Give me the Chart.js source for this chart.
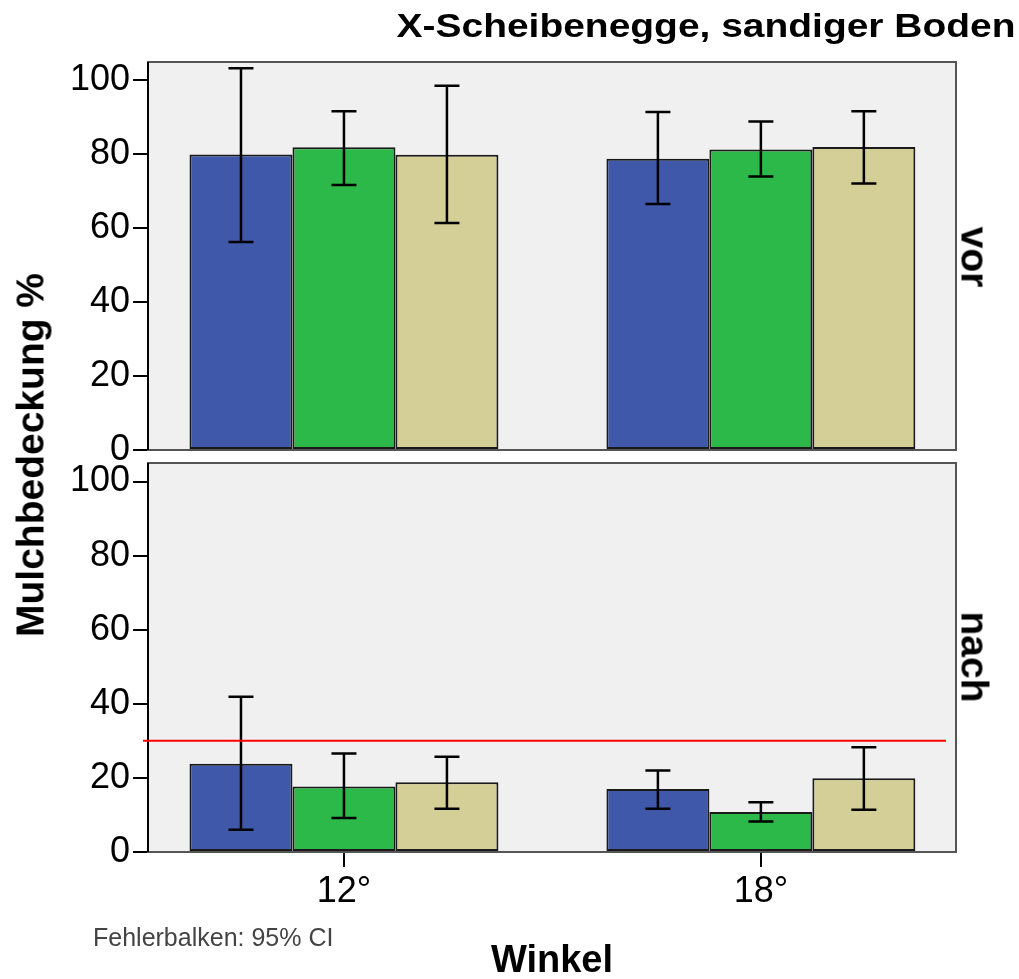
<!DOCTYPE html>
<html>
<head>
    <meta charset="utf-8">
    <title>X-Scheibenegge, sandiger Boden</title>
    <script src="https://cdn.jsdelivr.net/npm/chart.js"></script>
    <style>
        body { margin: 0; background: #fff; font-family: 'Liberation Sans', Arial, sans-serif; }
        #page { position: relative; width: 1019px; height: 979px; overflow: hidden; background: #fff; }
        canvas { position: absolute; left: 0; }
        #cVor { top: 0; }
        #cNach { top: 430px; }
        .txt { position: absolute; line-height: 1; white-space: nowrap; color: #000; }
        .bold { font-weight: bold; }
        .rot { transform: translate(-50%, -50%) rotate(90deg); }
        .rotl { transform: translate(-50%, -50%) rotate(-90deg); }
        #titel { right: 4px; top: 9px; font-size: 33px; transform: scaleX(1.18); transform-origin: right top; }
    </style>
</head>
<body>
<div id="page">
    <canvas id="cVor" width="1019" height="475"></canvas>
    <canvas id="cNach" width="1019" height="549"></canvas>

    <div id="titel" class="txt bold">X-Scheibenegge, sandiger Boden</div>
    <div class="txt bold rotl" style="left:30px; top:455px; font-size:39px;">Mulchbedeckung %</div>
    <div class="txt bold rot" style="left:975px; top:257px; font-size:39px;">vor</div>
    <div class="txt bold rot" style="left:975px; top:657px; font-size:39px;">nach</div>
    <div class="txt" style="left:93px; top:925px; font-size:25px; color:#444;">Fehlerbalken: 95% CI</div>
</div>

<script>
// Kategorien und Achsen
const winkel = ['12°', '18°'];
const winkelPos = [0, 1];
const yTicks = [0, 20, 40, 60, 80, 100];
const schwelle = 30;

// Mittelwerte vor der Bearbeitung (blau, grün, beige)
const vorBlau  = [80.0, 78.8];
const vorGruen = [81.9, 81.3];
const vorBeige = [79.9, 82.0];
// 95%-Konfidenzintervalle [unten, oben]
const vorBlauCI  = [[56.3, 103.3], [66.6, 91.5]];
const vorGruenCI = [[71.7, 91.7], [74.0, 88.9]];
const vorBeigeCI = [[61.4, 98.6], [72.1, 91.7]];

// Mittelwerte nach der Bearbeitung
const nachBlau  = [23.8, 17.0];
const nachGruen = [17.7, 10.8];
const nachBeige = [18.8, 19.9];
const nachBlauCI  = [[6.0, 41.9], [11.7, 22.0]];
const nachGruenCI = [[9.2, 26.6], [8.2, 13.4]];
const nachBeigeCI = [[11.7, 25.7], [11.4, 28.3]];

const farben = ['#3f58aa', '#2db84a', '#d4cf97'];
const FONT = "'Liberation Sans', Arial, sans-serif";

function makeDatasets(reihen, cis) {
    return reihen.map((werte, i) => ({
        label: 'Gruppe ' + (i + 1),
        data: werte.map((v, k) => ({ x: winkelPos[k], y: v })),
        ci: cis[i],
        backgroundColor: farben[i],
        borderColor: '#1a1a1a',
        borderWidth: 2,
        borderSkipped: false,
        categoryPercentage: 0.741,
        barPercentage: 1.0
    }));
}

// Hintergrund + Rahmen des Plotbereichs
const panelPlugin = {
    id: 'panel',
    beforeDraw(chart) {
        const { ctx, chartArea: a } = chart;
        ctx.save();
        ctx.fillStyle = '#f0f0f0';
        ctx.fillRect(a.left, a.top, a.right - a.left, a.bottom - a.top);
        ctx.restore();
    },
    beforeDatasetsDraw(chart) {
        const { ctx, chartArea: a } = chart;
        ctx.save();
        ctx.strokeStyle = '#555';
        ctx.lineWidth = 2;
        ctx.strokeRect(a.left, a.top, a.right - a.left, a.bottom - a.top);
        ctx.beginPath();
        ctx.strokeStyle = '#000';
        ctx.moveTo(a.left, a.top);
        ctx.lineTo(a.left, a.bottom);
        ctx.stroke();
        ctx.restore();
    }
};

// Fehlerbalken (95% CI)
const errorBarPlugin = {
    id: 'errorBars',
    afterDatasetsDraw(chart) {
        const { ctx } = chart;
        const y = chart.scales.y;
        ctx.save();
        ctx.strokeStyle = '#000';
        ctx.lineWidth = 2.5;
        chart.data.datasets.forEach((ds, i) => {
            chart.getDatasetMeta(i).data.forEach((bar, k) => {
                const [lo, hi] = ds.ci[k];
                const yLo = y.getPixelForValue(lo), yHi = y.getPixelForValue(hi);
                ctx.beginPath();
                ctx.moveTo(bar.x, yLo); ctx.lineTo(bar.x, yHi);
                ctx.moveTo(bar.x - 12.5, yLo); ctx.lineTo(bar.x + 12.5, yLo);
                ctx.moveTo(bar.x - 12.5, yHi); ctx.lineTo(bar.x + 12.5, yHi);
                ctx.stroke();
            });
        });
        ctx.restore();
    }
};

// rote Referenzlinie
const refLinePlugin = {
    id: 'refLine',
    afterDatasetsDraw(chart, args, opts) {
        if (opts.value == null) return;
        const { ctx, chartArea: a } = chart;
        const yy = chart.scales.y.getPixelForValue(opts.value);
        ctx.save();
        ctx.strokeStyle = '#ff0000';
        ctx.lineWidth = 2;
        ctx.beginPath();
        ctx.moveTo(a.left - 5, yy);
        ctx.lineTo(a.right - 10, yy);
        ctx.stroke();
        ctx.restore();
    }
};

function yScale() {
    return {
        min: 0,
        max: 105,
        afterBuildTicks: s => { s.ticks = yTicks.map(v => ({ value: v })); },
        afterFit: s => { s.width = 148; },
        border: { display: true, color: '#000', width: 2 },
        grid: { drawOnChartArea: false, drawTicks: true, tickLength: 15, color: '#000', lineWidth: 2 },
        ticks: { color: '#000', padding: 3, font: { family: FONT, size: 36 } }
    };
}

function xScale(zeigen) {
    return {
        type: 'linear',
        display: zeigen,
        min: -0.47,
        max: 1.468,
        offset: false,
        afterBuildTicks: s => { s.ticks = winkelPos.map(v => ({ value: v })); },
        afterFit: s => { if (zeigen) s.height = 127; },
        border: { display: false },
        grid: { offset: false, drawOnChartArea: false, drawTicks: true, tickLength: 15, color: '#000', lineWidth: 2 },
        ticks: {
            color: '#000',
            padding: 3,
            font: { family: FONT, size: 36 },
            callback: v => winkel[winkelPos.indexOf(v)]
        },
        title: {
            display: true,
            text: 'Winkel',
            color: '#000',
            font: { family: FONT, size: 38, weight: 'bold', lineHeight: 0.9 },
            padding: { top: 0, bottom: 0 }
        }
    };
}

function baseOptions(padding, zeigen, linie) {
    return {
        responsive: false,
        animation: false,
        layout: { padding },
        plugins: {
            legend: { display: false },
            tooltip: { enabled: false },
            refLine: { value: linie }
        },
        scales: { x: xScale(zeigen), y: yScale() }
    };
}

// oberes Panel: vor
new Chart(document.getElementById('cVor'), {
    type: 'bar',
    data: { datasets: makeDatasets([vorBlau, vorGruen, vorBeige], [vorBlauCI, vorGruenCI, vorBeigeCI]) },
    options: baseOptions({ top: 62, right: 63, bottom: 25, left: 0 }, false, null),
    plugins: [panelPlugin, errorBarPlugin, refLinePlugin]
});

// unteres Panel: nach
new Chart(document.getElementById('cNach'), {
    type: 'bar',
    data: { datasets: makeDatasets([nachBlau, nachGruen, nachBeige], [nachBlauCI, nachGruenCI, nachBeigeCI]) },
    options: baseOptions({ top: 33, right: 63, bottom: 0, left: 0 }, true, schwelle),
    plugins: [panelPlugin, errorBarPlugin, refLinePlugin]
});
</script>
</body>
</html>
